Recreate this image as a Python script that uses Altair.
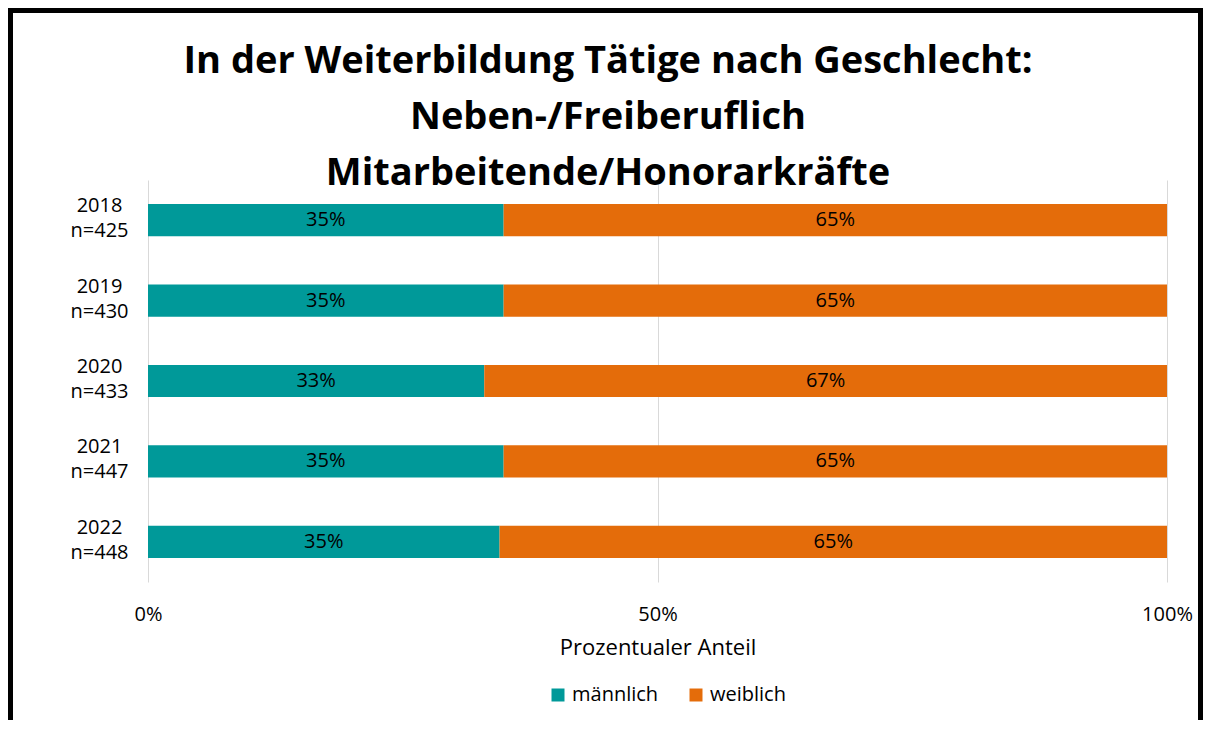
import altair as alt
import pandas as pd

years = ["2018", "2019", "2020", "2021", "2022"]
sample_sizes = [425, 430, 433, 447, 448]
male_share = [34.9, 34.9, 33.0, 34.9, 34.5]
female_share = [65.1, 65.1, 67.0, 65.1, 65.5]
male_labels = ["35%", "35%", "33%", "35%", "35%"]
female_labels = ["65%", "65%", "67%", "65%", "65%"]
genders = ["männlich", "weiblich"]
colors = ["#009999", "#E46C0A"]
x_ticks = [0, 50, 100]
title_lines = [
    "In der Weiterbildung Tätige nach Geschlecht:",
    "Neben-/Freiberuflich",
    "Mitarbeitende/Honorarkräfte",
]
x_title = "Prozentualer Anteil"

FONT = "Open Sans"

rows = []
cats = []
for i, yr in enumerate(years):
    cat = f"{yr}|n={sample_sizes[i]}"
    cats.append(cat)
    start = 0.0
    for g, v, lab in ((genders[0], male_share[i], male_labels[i]),
                      (genders[1], female_share[i], female_labels[i])):
        rows.append(dict(cat=cat, gender=g, start=start, end=start + v,
                         mid=start + v / 2, label=lab))
        start += v
df = pd.DataFrame(rows)

y_enc = alt.Y("cat:N", sort=cats, title=None,
              scale=alt.Scale(paddingInner=0.6, paddingOuter=0.3),
              axis=alt.Axis(labelExpr="split(datum.label, '|')", labelAlign="center",
                            labelPadding=49, labelFontSize=20, labelLineHeight=25,
                            labelBaseline="middle", labelOffset=-14, labelFont=FONT,
                            labelColor="#000000", ticks=False, domain=False, grid=False))

x_scale = alt.Scale(domain=[0, 100], nice=False)

bars = alt.Chart(df).mark_bar().encode(
    x=alt.X("start:Q", scale=x_scale, title=x_title,
            axis=alt.Axis(values=x_ticks, labelExpr="datum.value + '%'", grid=True,
                          gridColor="#d9d9d9", gridWidth=1, domain=False, ticks=False,
                          labelFlush=False, labelPadding=22, labelFontSize=20,
                          labelFont=FONT, labelColor="#000000", titleFont=FONT,
                          titleFontSize=22, titleFontWeight="normal", titleColor="#000000",
                          titlePadding=13)),
    x2="end:Q",
    y=y_enc,
    color=alt.Color("gender:N", scale=alt.Scale(domain=genders, range=colors),
                    legend=alt.Legend(title=None, orient="none", direction="horizontal",
                                      legendX=400, legendY=505, symbolType="square",
                                      symbolSize=169, symbolStrokeWidth=0,
                                      labelFontSize=20, labelFont=FONT, labelColor="#000000",
                                      labelOffset=4, columnPadding=27)),
)

labels = alt.Chart(df).mark_text(fontSize=20, font=FONT, color="#000000",
                                 baseline="middle", align="center").encode(
    x=alt.X("mid:Q", scale=x_scale),
    y=alt.Y("cat:N", sort=cats),
    text="label:N",
)

title = alt.Chart(alt.Data(values=[{"t": 1}])).mark_text(
    text=title_lines, font=FONT, fontSize=38, fontWeight="bold", color="#000000",
    align="center", baseline="alphabetic", lineHeight=56,
).encode(x=alt.value(460), y=alt.value(-107))

frame = alt.Chart(alt.Data(values=[{"f": 1}])).mark_rect(
    filled=False, stroke="#000000", strokeWidth=5,
).encode(x=alt.value(-137.5), x2=alt.value(1052.5), y=alt.value(-169.5), y2=alt.value(900))

chart = alt.layer(frame, bars, labels, title).properties(
    width=1019, height=402,
    autosize=alt.AutoSizeParams(type="none"),
    padding={"left": 140, "top": 172, "right": 36, "bottom": 138},
    background="#ffffff",
).configure_view(stroke=None)

chart.save("out.html", embed_options={"renderer": "svg", "actions": False})
